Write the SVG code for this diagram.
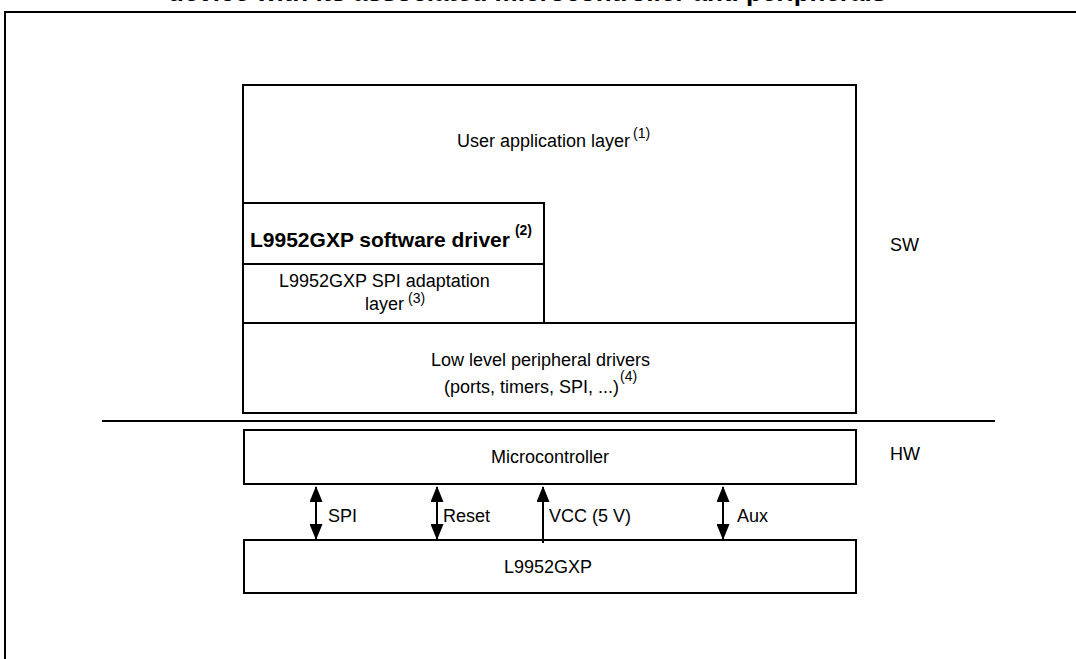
<svg xmlns="http://www.w3.org/2000/svg" width="1076" height="659" viewBox="0 0 1076 659">
<style>
.box{fill:#fff;stroke:#000;stroke-width:2}
.ln{stroke:#000;stroke-width:2;fill:none}
text{font-family:"Liberation Sans",Arial,sans-serif;fill:#000}
.t{font-size:18px}
.s{font-size:14px}
.b{font-weight:bold}
</style>
<defs>
<marker id="ah" viewBox="0 0 16 13" refX="15" refY="6.5" markerWidth="16" markerHeight="13" markerUnits="userSpaceOnUse" orient="auto-start-reverse">
<path d="M0,0 L16,6.5 L0,13 Z" fill="#000"/>
</marker>
</defs>
<rect width="1076" height="659" fill="#fff"/>
<text x="168" y="1" class="b" font-size="26">device with its associated microcontroller and peripherals</text>
<path class="ln" d="M5,670 V12 H1090"/>
<g id="sw-stack">
<rect class="box" x="243" y="85" width="613" height="328"/>
<line class="ln" x1="243" y1="323" x2="856" y2="323"/>
</g>
<g id="user-app">
<text x="457" y="147" class="t">User application layer<tspan class="s" dx="3" dy="-9">(1)</tspan></text>
</g>
<g id="sw-driver">
<rect class="box" x="243" y="203" width="301" height="120"/>
<line class="ln" x1="243" y1="264" x2="544" y2="264"/>
<text x="250" y="247" class="b" font-size="21">L9952GXP software driver<tspan font-size="14" dx="5" dy="-12">(2)</tspan></text>
</g>
<g id="spi-adapt">
<text class="t"><tspan x="279" y="287">L9952GXP SPI adaptation</tspan><tspan x="365" y="310">layer</tspan><tspan class="s" dx="4" dy="-7">(3)</tspan></text>
</g>
<g id="low-level">
<text class="t"><tspan x="431" y="366">Low level peripheral drivers</tspan><tspan x="444" y="393">(ports, timers, SPI, ...)</tspan><tspan class="s" dx="1" dy="-12">(4)</tspan></text>
</g>
<line class="ln" x1="102" y1="421" x2="995" y2="421"/>
<text x="890" y="251" class="t">SW</text>
<text x="890" y="460" class="t">HW</text>
<g id="mcu">
<rect class="box" x="244" y="430" width="612" height="54"/>
<text x="550" y="463" class="t" text-anchor="middle">Microcontroller</text>
</g>
<g id="l9952">
<rect class="box" x="244" y="540" width="612" height="53"/>
<text x="548" y="573" class="t" text-anchor="middle">L9952GXP</text>
</g>
<g id="connectors">
<line class="ln" x1="316" y1="487" x2="316" y2="539" marker-start="url(#ah)" marker-end="url(#ah)"/>
<line class="ln" x1="437" y1="487" x2="437" y2="539" marker-start="url(#ah)" marker-end="url(#ah)"/>
<line class="ln" x1="543" y1="543" x2="543" y2="487" marker-end="url(#ah)"/>
<line class="ln" x1="723" y1="487" x2="723" y2="539" marker-start="url(#ah)" marker-end="url(#ah)"/>
<text x="328" y="522" class="t">SPI</text>
<text x="443" y="522" class="t">Reset</text>
<text x="549" y="522" class="t">VCC (5 V)</text>
<text x="737" y="522" class="t">Aux</text>
</g>
</svg>
